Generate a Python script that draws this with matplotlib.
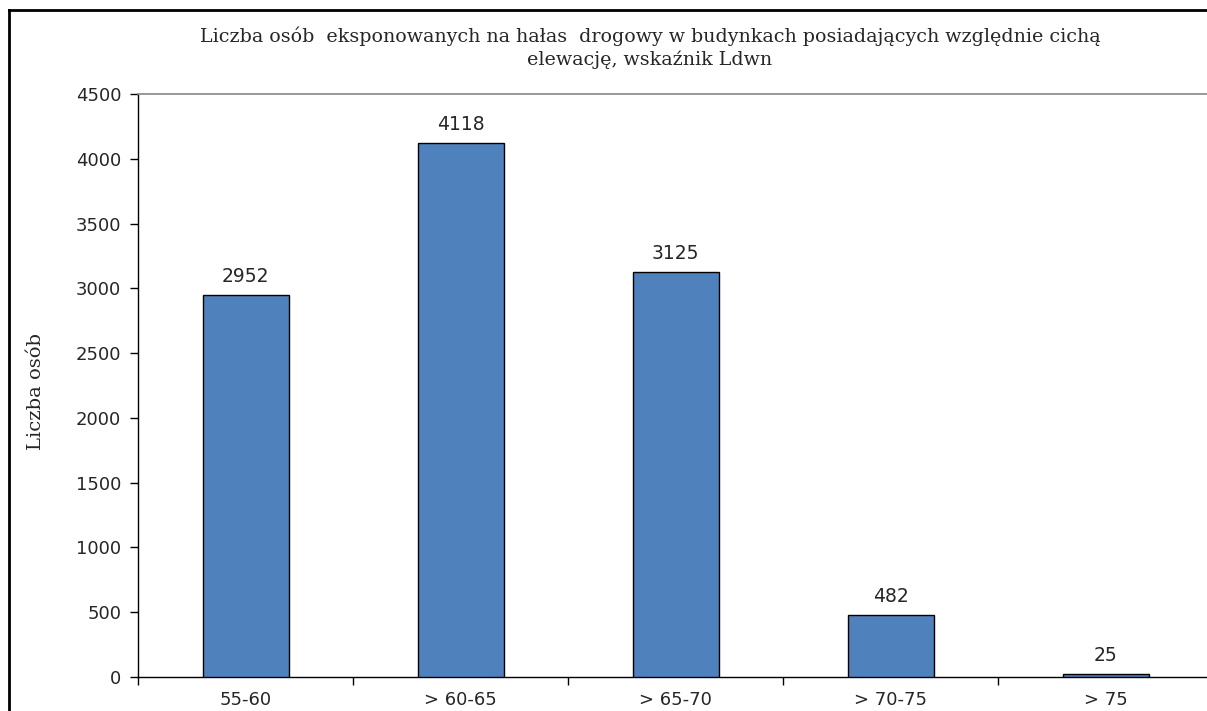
import matplotlib
matplotlib.use("Agg")
import matplotlib.pyplot as plt
from matplotlib.lines import Line2D

categories = ["55-60", "> 60-65", "> 65-70", "> 70-75", "> 75"]
values = [2952, 4118, 3125, 482, 25]
yticks = [0, 500, 1000, 1500, 2000, 2500, 3000, 3500, 4000, 4500]
title = "Liczba osób  eksponowanych na hałas  drogowy w budynkach posiadających względnie cichą\nelewację, wskaźnik Ldwn"
ylabel = "Liczba osób"

W, H = 1207, 711
fig = plt.figure(figsize=(W / 100, H / 100), dpi=100)
fig.patch.set_facecolor("white")

left, right, top, bottom = 138, 1213, 94, 677
ax = fig.add_axes([left / W, (H - bottom) / H, (right - left) / W, (bottom - top) / H])

SANS = "DejaVu Sans"
TXT = "#262626"

x = list(range(len(categories)))
ax.bar(x, values, width=0.4, color="#4F81BD", edgecolor="black", linewidth=1.0, zorder=3)
ax.set_xlim(-0.5, len(categories) - 0.5)
ax.set_ylim(0, 4500)
ax.set_yticks(yticks)
ax.set_yticklabels([str(t) for t in yticks], fontsize=13, family=SANS, color=TXT)

ax.set_xticks([i + 0.5 for i in range(len(categories) - 1)] + [-0.5])
ax.set_xticklabels([])
ax.set_xticks(x, minor=True)
ax.set_xticklabels(categories, minor=True, fontsize=13, family=SANS, color=TXT)
ax.tick_params(axis="x", which="minor", length=0, pad=10)
ax.tick_params(axis="x", which="major", length=6, direction="out", width=1)
ax.tick_params(axis="y", length=6, width=1, direction="out", pad=6)

ax.spines["right"].set_visible(False)
ax.spines["top"].set_color("#888888")
ax.spines["top"].set_linewidth(1.2)
ax.spines["left"].set_linewidth(1.0)
ax.spines["bottom"].set_linewidth(1.0)

for xi, v in zip(x, values):
    ax.annotate(str(v), (xi, v), xytext=(0, 6.5), textcoords="offset points",
                ha="center", va="bottom", fontsize=13.5, family=SANS, color=TXT)

fig.text(650 / W, 1 - 48 / H, title, ha="center", va="center", fontsize=13.7,
         family="DejaVu Serif", color=TXT, linespacing=1.3)
fig.text(36 / W, 1 - 392 / H, ylabel, rotation=90, ha="center", va="center",
         fontsize=14, family="DejaVu Serif", color=TXT)

# figure border (left and top visible)
fig.add_artist(Line2D([9 / W, 9 / W], [-0.1, 1 - 10 / H], transform=fig.transFigure, color="black", linewidth=2))
fig.add_artist(Line2D([9 / W, 1.1], [1 - 10 / H, 1 - 10 / H], transform=fig.transFigure, color="black", linewidth=2))

fig.savefig("out.png", dpi=100)
